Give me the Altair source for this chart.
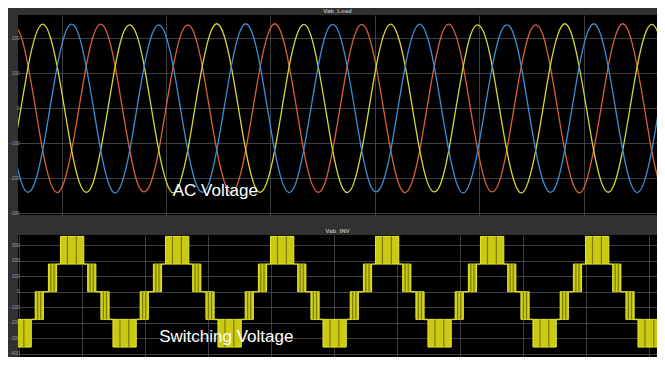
import altair as alt
import pandas as pd

# ---------------- top panel: Vab_Load (three phase AC voltage) ----------------
t_ms = [10.83, 12.22, 13.61, 15.00, 16.39, 17.77, 19.16, 20.55, 21.94, 23.33, 24.72, 26.11,
        27.50, 28.89, 30.27, 31.66, 33.05, 34.44, 35.83, 37.22, 38.61, 40.00, 41.39, 42.77,
        44.16, 45.55, 46.94, 48.33, 49.72, 51.11, 52.50, 53.89, 55.27, 56.66, 58.05, 59.44,
        60.83, 62.22, 63.61, 65.00, 66.39, 67.77, 69.16, 70.55, 71.94, 73.33, 74.72, 76.11,
        77.50, 78.89, 80.27, 81.66, 83.05, 84.44, 85.83, 87.22, 88.61, 90.00, 91.39, 92.77,
        94.16, 95.55, 96.94, 98.33, 99.72, 101.11, 102.50, 103.89, 105.27, 106.66, 108.05, 109.44,
        110.83, 112.22, 113.61, 115.00, 116.39, 117.77, 119.16, 120.55, 121.94, 123.33, 124.72, 126.11,
        127.50, 128.89, 130.27, 131.66, 133.05, 134.44, 135.83, 137.22]

v_orange = [240, 207, 119, 1, -121, -208, -241, -207, -119, 0, 121, 209,
            241, 208, 120, -1, -120, -209, -239, -208, -121, 1, 120, 207,
            239, 208, 121, 0, -119, -207, -242, -208, -120, -1, 119, 208,
            242, 209, 120, 1, -121, -208, -240, -209, -119, 0, 121, 208,
            240, 207, 119, 0, -120, -209, -241, -207, -120, 1, 120, 209,
            241, 208, 121, -1, -119, -208, -239, -208, -121, 0, 119, 207,
            239, 209, 120, 0, -120, -207, -242, -208, -119, -1, 120, 208,
            242, 208, 119, 1, -121, -209, -240, -207]

v_yellow = [-120, 1, 121, 208, 241, 207, 119, 0, -121, -208, -240, -209,
            -119, 0, 120, 209, 239, 208, 121, -1, -120, -207, -242, -208,
            -121, 1, 119, 208, 242, 209, 120, 0, -119, -208, -240, -207,
            -120, -1, 121, 207, 240, 208, 119, 1, -121, -209, -241, -208,
            -119, 0, 120, 208, 241, 207, 121, 0, -120, -208, -239, -209,
            -121, 1, 119, 209, 239, 208, 120, -1, -119, -207, -242, -208,
            -120, 0, 121, 208, 242, 209, 119, 0, -121, -208, -240, -207,
            -119, 1, 120, 207, 240, 208, 121, 0]

v_blue = [-121, -208, -240, -207, -119, 0, 120, 209, 241, 208, 119, 1,
          -120, -209, -242, -208, -121, 1, 121, 207, 239, 207, 120, 0,
          -119, -207, -240, -209, -120, -1, 119, 208, 242, 209, 121, -1,
          -121, -208, -241, -208, -119, 0, 120, 209, 240, 208, 119, 1,
          -120, -209, -239, -207, -121, 1, 121, 208, 241, 207, 120, 0,
          -119, -208, -242, -208, -120, 0, 119, 207, 239, 209, 121, -1,
          -121, -207, -240, -209, -119, -1, 120, 208, 242, 208, 119, 0,
          -120, -208, -241, -208, -121, 1, 121, 209]

phase_names = ["Va", "Vb", "Vc"]
phase_colors = ["#d8603a", "#d6d63a", "#3d8fd4"]

top_x_grid = [20, 40, 60, 80, 100, 120]
top_y_ticks = [-300, -200, -100, 0, 100, 200]

# ---------------- bottom panel: Vab_INV (multilevel switching voltage) ----------------
band_start = [8.20, 12.52, 14.62, 16.53, 20.85, 22.95, 24.86, 29.18, 31.28, 33.20,
              37.52, 39.62, 41.53, 45.85, 47.95, 49.87, 54.19, 56.29, 58.20, 62.52,
              64.62, 66.53, 70.85, 72.95, 74.86, 79.18, 81.28, 83.20, 87.52, 89.62,
              91.53, 95.85, 97.95, 99.87, 104.19, 106.29, 108.20, 112.52]
band_end = [11.90, 13.82, 15.92, 20.23, 22.15, 24.25, 28.56, 30.48, 32.58, 36.90,
            38.82, 40.92, 45.23, 47.15, 49.25, 53.57, 55.49, 57.59, 61.90, 63.82,
            65.92, 70.23, 72.15, 74.25, 78.56, 80.48, 82.58, 86.90, 88.82, 90.92,
            95.23, 97.15, 99.25, 103.57, 105.49, 107.59, 111.90, 113.82]
band_low = [-356, -178, 0, 178, 0, -178, -356, -178, 0, 178,
            0, -178, -356, -178, 0, 178, 0, -178, -356, -178,
            0, 178, 0, -178, -356, -178, 0, 178, 0, -178,
            -356, -178, 0, 178, 0, -178, -356, -178]
band_high = [-178, 0, 178, 356, 178, 0, -178, 0, 178, 356,
             178, 0, -178, 0, 178, 356, 178, 0, -178, 0,
             178, 356, 178, 0, -178, 0, 178, 356, 178, 0,
             -178, 0, 178, 356, 178, 0, -178, 0]

bot_x_grid = [10, 20, 30, 40, 50, 60, 70, 80, 90, 100, 110]
bot_y_ticks = [-400, -300, -200, -100, 0, 100, 200, 300]

ann_top_label = ["AC Voltage"]
ann_top_t = [41.3]
ann_top_v = [-252]
ann_bot_label = ["Switching Voltage"]
ann_bot_t = [32.2]
ann_bot_v = [-325]

# ---------------- build tables ----------------
n = len(t_ms)
df_sine = pd.DataFrame({
    "t": t_ms * 3,
    "v": v_orange + v_yellow + v_blue,
    "phase": [phase_names[0]] * n + [phase_names[1]] * n + [phase_names[2]] * n,
})
df_bands = pd.DataFrame({"start": band_start, "end": band_end, "low": band_low, "high": band_high})
plat = []
for i in range(len(band_start) - 1):
    common = {band_low[i], band_high[i]} & {band_low[i + 1], band_high[i + 1]}
    plat.append({"start": band_end[i], "end": band_start[i + 1], "low": common.pop()})
df_plat = pd.DataFrame(plat)
df_ann_top = pd.DataFrame({"t": ann_top_t, "v": ann_top_v, "label": ann_top_label})
df_ann_bot = pd.DataFrame({"start": ann_bot_t, "low": ann_bot_v, "label": ann_bot_label})

GRID = "#4e4e4e"
LAB = "#a0a0a0"
SANS = "Liberation Sans, Arial, sans-serif"
YEL = "#d8d818"

y_axis_common = dict(labelFontSize=4.6, labelColor=LAB, labelFont=SANS, ticks=False,
                     domain=False, grid=True, gridColor=GRID, gridWidth=0.8, labelPadding=-1,
                     title=None)
x_axis_common = dict(labels=False, ticks=False, domain=False, grid=True, gridColor=GRID,
                     gridWidth=0.8, title=None)

x_top = alt.X("t:Q", scale=alt.Scale(domain=[11.65, 134.06], nice=False, zero=False),
              axis=alt.Axis(values=top_x_grid, **x_axis_common))
y_top = alt.Y("v:Q", scale=alt.Scale(domain=[-305, 267], nice=False, zero=False),
              axis=alt.Axis(values=top_y_ticks, **y_axis_common))

lines = alt.Chart(df_sine).mark_line(interpolate="natural", strokeWidth=1.3, clip=True).encode(
    x=x_top, y=y_top,
    color=alt.Color("phase:N", scale=alt.Scale(domain=phase_names, range=phase_colors), legend=None),
)
txt_top = alt.Chart(df_ann_top).mark_text(font=SANS, fontSize=17, color="white", align="left",
                                          baseline="alphabetic").encode(x=x_top, y=y_top, text="label:N")

top = alt.layer(lines, txt_top).properties(
    width=639, height=200,
    title=alt.TitleParams("Vab_Load", fontSize=6, color="#b4b4b4", font=SANS, offset=1, anchor="middle"),
)

x_bot = alt.X("start:Q", scale=alt.Scale(domain=[9.79, 111.22], nice=False, zero=False),
              axis=alt.Axis(values=bot_x_grid, **x_axis_common))
y_bot = alt.Y("low:Q", scale=alt.Scale(domain=[-420, 365], nice=False, zero=False),
              axis=alt.Axis(values=bot_y_ticks, **y_axis_common))

rects = alt.Chart(df_bands).mark_rect(fill="#caca12", stroke="#e8e82c", strokeWidth=1, clip=True).encode(
    x=x_bot, x2="end:Q", y=y_bot, y2="high:Q")
stripes = alt.Chart(df_bands).transform_calculate(
    s1="datum.start + 0.3 * (datum.end - datum.start)",
    s2="datum.start + 0.68 * (datum.end - datum.start)",
).transform_fold(["s1", "s2"], as_=["k", "xs"]).mark_rule(color="#7c7c04", strokeWidth=1.2, clip=True).encode(
    x=alt.X("xs:Q", scale=alt.Scale(domain=[9.79, 111.22], nice=False, zero=False)), y=y_bot, y2="high:Q")
plateaus = alt.Chart(df_plat).mark_rule(color=YEL, strokeWidth=1.5, clip=True).encode(
    x=x_bot, x2="end:Q", y=y_bot)
txt_bot = alt.Chart(df_ann_bot).mark_text(font=SANS, fontSize=17, color="white", align="left",
                                          baseline="alphabetic").encode(x=x_bot, y=y_bot, text="label:N")

bottom = alt.layer(rects, stripes, plateaus, txt_bot).properties(
    width=639, height=122,
    title=alt.TitleParams("Vab_INV", fontSize=6, color="#b4b4b4", font=SANS, offset=1, anchor="middle"),
)

chart = alt.vconcat(top, bottom, spacing=20, bounds="flush").properties(
    background="#313131",
    padding={"left": 0, "top": 0, "right": 0, "bottom": 0},
).configure_view(fill="#000000", strokeWidth=0)

chart.save("out.html", embed_options={"renderer": "svg", "actions": False})
